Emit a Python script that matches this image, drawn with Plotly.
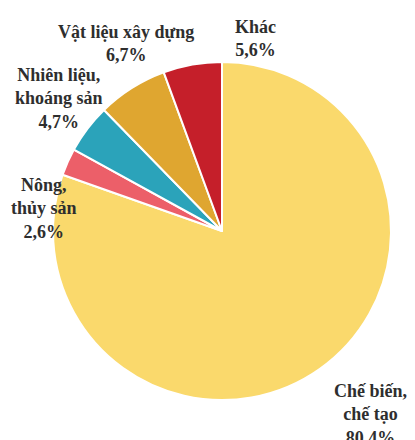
import plotly.graph_objects as go

categories = ["Chế biến, chế tạo", "Nông, thủy sản", "Nhiên liệu, khoáng sản", "Vật liệu xây dựng", "Khác"]
values = [80.4, 2.6, 4.7, 6.7, 5.6]
label_texts = ["Chế biến,<br>chế tạo<br>80,4%", "Nông,<br>thủy sản<br>2,6%", "Nhiên liệu,<br>khoáng sản<br>4,7%",
               "Vật liệu xây dựng<br>6,7%", "Khác<br>5,6%"]
colors = ["#FAD96C", "#EC5F69", "#2BA3BA", "#DFA630", "#C51F2A"]

W, H = 415, 440
OFF = 8  # page body margin offset
cx, cy, r = 222 - OFF, 231 - OFF, 169

fig = go.Figure(go.Pie(
    labels=categories, values=values, sort=False, direction="clockwise", rotation=0,
    marker=dict(colors=colors, line=dict(color="white", width=2)),
    textinfo="none", hoverinfo="label+percent", showlegend=False,
    domain=dict(x=[(cx - r) / W, (cx + r) / W], y=[(H - cy - r) / H, (H - cy + r) / H]),
))

# label block centers (reference pixels)
label_pos = [(370, 414), (44, 208), (59, 99), (126, 44), (255, 39)]
for txt, (px, py) in zip(label_texts, label_pos):
    bold = "<b>" + txt.replace("<br>", "</b><br><b>") + "</b>"
    fig.add_annotation(text=bold, x=(px - OFF) / W, y=1 - (py - OFF) / H, xref="paper", yref="paper",
                       showarrow=False, align="center", xanchor="center", yanchor="middle",
                       font=dict(family="Liberation Serif", size=18, color="#2e2e2e"))

fig.update_layout(width=W, height=H, margin=dict(l=0, r=0, t=0, b=0),
                  paper_bgcolor="white", plot_bgcolor="white",
                  font=dict(family="Liberation Serif"))
fig.write_html("out.html")
